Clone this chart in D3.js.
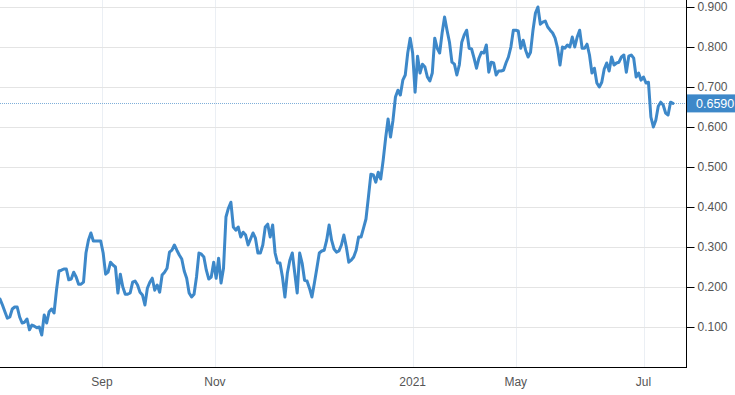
<!DOCTYPE html>
<html>
<head>
<meta charset="utf-8">
<script src="https://cdn.jsdelivr.net/npm/d3@7"></script>
<style>
  body { margin: 0; background: #fff; }
  svg { display: block; font-family: "Liberation Sans", Arial, sans-serif; }
</style>
</head>
<body>
<script>
// daily closes, evenly spaced sessions
const values = [
  0.170, 0.155, 0.138, 0.122, 0.125, 0.145, 0.150, 0.150, 0.125, 0.110,
  0.112, 0.120, 0.093, 0.105, 0.102, 0.098, 0.100, 0.080, 0.130, 0.110,
  0.138, 0.145, 0.135, 0.192, 0.240, 0.242, 0.245, 0.245, 0.218, 0.220,
  0.237, 0.225, 0.207, 0.207, 0.212, 0.285, 0.317, 0.335, 0.315, 0.315,
  0.315, 0.315, 0.285, 0.232, 0.237, 0.262, 0.255, 0.250, 0.185, 0.232,
  0.200, 0.182, 0.182, 0.185, 0.212, 0.215, 0.205, 0.187, 0.180, 0.155,
  0.197, 0.212, 0.222, 0.192, 0.205, 0.187, 0.230, 0.237, 0.247, 0.287,
  0.292, 0.305, 0.292, 0.280, 0.270, 0.240, 0.222, 0.185, 0.175, 0.182,
  0.225, 0.285, 0.282, 0.275, 0.242, 0.220, 0.225, 0.262, 0.222, 0.272,
  0.210, 0.247, 0.375, 0.397, 0.412,
  0.350, 0.342, 0.350, 0.325, 0.337, 0.330, 0.305, 0.320, 0.335, 0.322,
  0.285, 0.285, 0.305, 0.350, 0.357, 0.325, 0.355, 0.285, 0.260, 0.260,
  0.225, 0.175, 0.235, 0.267, 0.285, 0.235, 0.185, 0.285, 0.260, 0.217,
  0.215, 0.197, 0.175, 0.210, 0.247, 0.285, 0.290, 0.292, 0.317, 0.355,
  0.317, 0.295, 0.287, 0.290, 0.305, 0.330,
  0.300, 0.262, 0.267, 0.275, 0.292, 0.325, 0.325, 0.347, 0.370, 0.425,
  0.482, 0.480, 0.462, 0.487, 0.470, 0.517, 0.572, 0.620, 0.575, 0.617,
  0.675, 0.692, 0.680, 0.717, 0.730, 0.785, 0.822, 0.785, 0.687, 0.777,
  0.735, 0.757, 0.750, 0.725, 0.715, 0.735, 0.822, 0.797, 0.785,
  0.835, 0.875, 0.842, 0.812, 0.762, 0.757, 0.730, 0.755, 0.812, 0.830,
  0.842, 0.797, 0.795, 0.772, 0.747, 0.772, 0.787, 0.785, 0.805, 0.737,
  0.762, 0.760, 0.730, 0.740, 0.740, 0.742, 0.760, 0.775, 0.800, 0.842,
  0.842, 0.840, 0.797, 0.817, 0.792, 0.775, 0.787, 0.842, 0.885, 0.900,
  0.857, 0.862, 0.865, 0.850, 0.842, 0.835, 0.822, 0.797, 0.755,
  0.800, 0.797, 0.805, 0.800, 0.825, 0.800, 0.825, 0.842, 0.797, 0.797,
  0.807, 0.780, 0.735, 0.747, 0.710, 0.700, 0.712, 0.745, 0.760, 0.740,
  0.775, 0.755, 0.760, 0.762, 0.775, 0.780, 0.737, 0.777, 0.780, 0.772,
  0.725, 0.735, 0.717, 0.725, 0.710, 0.712, 0.625, 0.600, 0.617, 0.652,
  0.662, 0.655, 0.635, 0.630, 0.662, 0.659
];

const monthLabels = ['Sep', 'Nov', '2021', 'May', 'Jul'];
const monthAt = [41.5, 87.5, 168, 210, 262];   // session index of each label
const yTicks = [0.1, 0.2, 0.3, 0.4, 0.5, 0.6, 0.7, 0.8, 0.9];
const lastValue = 0.659;

const width = 735, height = 395;
const plotRight = 686, plotBottom = 367;
const lineColor = '#3d88c9';

const svg = d3.select(document.body).append('svg')
  .attr('width', width)
  .attr('height', height);

const x = d3.scaleLinear()
  .domain([0, values.length - 1])
  .range([0, 673]);

const y = d3.scaleLinear()
  .domain([0, 0.9])
  .range([plotBottom, 7]);

// vertical grid
svg.append('g')
  .selectAll('line')
  .data(monthAt)
  .join('line')
  .attr('x1', d => Math.round(x(d)) + 0.5)
  .attr('x2', d => Math.round(x(d)) + 0.5)
  .attr('y1', 0)
  .attr('y2', plotBottom)
  .attr('stroke', '#ebeff4')
  .attr('stroke-width', 1);

// horizontal grid
svg.append('g')
  .selectAll('line')
  .data(yTicks)
  .join('line')
  .attr('x1', 0)
  .attr('x2', plotRight)
  .attr('y1', d => Math.round(y(d)) + 0.5)
  .attr('y2', d => Math.round(y(d)) + 0.5)
  .attr('stroke', '#e4e4e4')
  .attr('stroke-width', 1);

// last value guide
svg.append('line')
  .attr('x1', 0)
  .attr('x2', plotRight)
  .attr('y1', Math.round(y(lastValue)) + 0.5)
  .attr('y2', Math.round(y(lastValue)) + 0.5)
  .attr('stroke', '#7fafd9')
  .attr('stroke-width', 1)
  .attr('stroke-dasharray', '1,1');

// series
const line = d3.line()
  .x((d, i) => x(i))
  .y(d => y(d));

svg.append('path')
  .datum(values)
  .attr('d', line)
  .attr('fill', 'none')
  .attr('stroke', lineColor)
  .attr('stroke-width', 3)
  .attr('stroke-linejoin', 'round')
  .attr('stroke-linecap', 'round');

// bottom axis
svg.append('line')
  .attr('x1', 0)
  .attr('x2', plotRight)
  .attr('y1', plotBottom + 0.5)
  .attr('y2', plotBottom + 0.5)
  .attr('stroke', '#000')
  .attr('stroke-width', 1);

svg.append('g')
  .selectAll('text')
  .data(monthAt)
  .join('text')
  .attr('x', d => x(d))
  .attr('y', 386)
  .attr('text-anchor', 'middle')
  .attr('font-size', 12)
  .attr('fill', '#555')
  .text((d, i) => monthLabels[i]);

// right axis
const yAxis = d3.axisRight(y)
  .tickValues(yTicks)
  .tickSize(8)
  .tickPadding(3)
  .tickFormat(d3.format('.3f'));

const ag = svg.append('g')
  .attr('transform', `translate(${plotRight + 0.5},0)`)
  .call(yAxis);
ag.select('.domain')
  .attr('d', `M0,0V${plotBottom + 1}`)
  .attr('stroke', '#000');
ag.selectAll('.tick line').attr('stroke', '#000');
ag.selectAll('.tick text')
  .attr('font-size', 12)
  .attr('font-family', '"Liberation Sans", Arial, sans-serif')
  .attr('fill', '#555');

// last value badge
const by = y(lastValue);
svg.append('rect')
  .attr('x', plotRight + 1)
  .attr('y', by - 9)
  .attr('width', width - plotRight - 1)
  .attr('height', 18)
  .attr('fill', lineColor);

svg.append('text')
  .attr('x', 696)
  .attr('y', by)
  .attr('dy', '0.35em')
  .attr('font-size', 12.5)
  .attr('fill', '#fff')
  .text(lastValue.toFixed(4));
</script>
</body>
</html>
